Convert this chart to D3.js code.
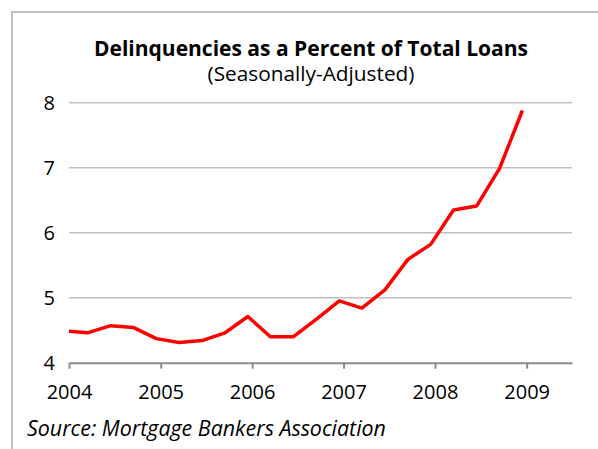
<!DOCTYPE html>
<html>
<head>
<meta charset="utf-8">
<script src="https://cdn.jsdelivr.net/npm/d3@7"></script>
<style>
  body { margin: 0; background: #fff; }
  svg { display: block; font-family: "Open Sans", sans-serif; }
  .grid line { stroke: #c0c0c0; stroke-width: 1.5; }
  .xaxis path, .xaxis line { stroke: #8c8c8c; stroke-width: 2; }
</style>
</head>
<body>
<script>
// quarterly delinquency rate, % of total loans (seasonally adjusted)
const quarters = ["2003-12-15", "2004-03-15", "2004-06-15", "2004-09-15",
  "2004-12-15", "2005-03-15", "2005-06-15", "2005-09-15",
  "2005-12-15", "2006-03-15", "2006-06-15", "2006-09-15",
  "2006-12-15", "2007-03-15", "2007-06-15", "2007-09-15",
  "2007-12-15", "2008-03-15", "2008-06-15", "2008-09-15",
  "2008-12-15"];
const rates = [4.49, 4.46, 4.57, 4.54, 4.37, 4.31, 4.34, 4.46, 4.71, 4.40,
  4.40, 4.67, 4.95, 4.84, 5.12, 5.59, 5.82, 6.35, 6.41, 6.99, 7.88];
const yTicks = [4, 5, 6, 7, 8];
const yearTicks = ["2004", "2005", "2006", "2007", "2008", "2009"];

const width = 598, height = 449;
const plotLeft = 69, plotRight = 572, plotTop = 102.7, plotBottom = 362.7;

const svg = d3.select("body").append("svg")
  .attr("width", width)
  .attr("height", height);

// cut-off figure heading above the frame
svg.append("text")
  .attr("x", -14)
  .attr("y", -6)
  .attr("font-weight", "bold")
  .attr("font-size", 20)
  .text("Figure 3: Mortgage Delinquencies Rising");

// frame
svg.append("rect")
  .attr("x", 12).attr("y", 12)
  .attr("width", 620).attr("height", 480)
  .attr("fill", "none")
  .attr("stroke", "#bfbfbf")
  .attr("stroke-width", 2);

svg.append("text")
  .attr("x", 311).attr("y", 55.5)
  .attr("text-anchor", "middle")
  .attr("font-weight", "bold")
  .attr("font-size", 21)
  .text("Delinquencies as a Percent of Total Loans");

svg.append("text")
  .attr("x", 311).attr("y", 80.5)
  .attr("text-anchor", "middle")
  .attr("font-size", 20.8)
  .text("(Seasonally-Adjusted)");

const parse = d3.timeParse("%Y-%m-%d");
const data = quarters.map((q, i) => ({ date: parse(q), value: rates[i] }));

const x = d3.scaleTime()
  .domain([new Date(2004, 0, 1), new Date(2009, 6, 1)])
  .range([plotLeft, plotRight]);

const y = d3.scaleLinear()
  .domain([4, 8])
  .range([plotBottom, plotTop]);

// horizontal gridlines
svg.append("g")
  .attr("class", "grid")
  .selectAll("line")
  .data(yTicks.filter(d => d > 4))
  .enter()
  .append("line")
  .attr("x1", plotLeft).attr("x2", plotRight)
  .attr("y1", d => y(d)).attr("y2", d => y(d));

// y labels
svg.append("g")
  .selectAll("text")
  .data(yTicks)
  .enter()
  .append("text")
  .attr("x", 55)
  .attr("y", d => y(d))
  .attr("dy", "0.36em")
  .attr("text-anchor", "end")
  .attr("font-size", 20)
  .text(d => d);

// x axis
const xAxis = d3.axisBottom(x)
  .tickValues(yearTicks.map(d => new Date(+d, 0, 1)))
  .tickFormat(d3.timeFormat("%Y"))
  .tickSizeInner(6)
  .tickSizeOuter(0)
  .tickPadding(16);

const gx = svg.append("g")
  .attr("class", "xaxis")
  .attr("transform", `translate(0,${plotBottom})`)
  .call(xAxis);
gx.selectAll("text")
  .attr("font-size", 20)
  .attr("font-family", "Open Sans, sans-serif")
  .attr("fill", "#000");

// clip to plot area
svg.append("clipPath")
  .attr("id", "plot")
  .append("rect")
  .attr("x", plotLeft).attr("y", 0)
  .attr("width", plotRight - plotLeft).attr("height", plotBottom);

const line = d3.line()
  .x(d => x(d.date))
  .y(d => y(d.value));

svg.append("path")
  .datum(data)
  .attr("clip-path", "url(#plot)")
  .attr("fill", "none")
  .attr("stroke", "#ff0000")
  .attr("stroke-width", 3.5)
  .attr("stroke-linejoin", "round")
  .attr("d", line);

// source note
svg.append("text")
  .attr("x", 27).attr("y", 436)
  .attr("font-style", "italic")
  .attr("font-size", 21.4)
  .text("Source: Mortgage Bankers Association");
</script>
</body>
</html>
